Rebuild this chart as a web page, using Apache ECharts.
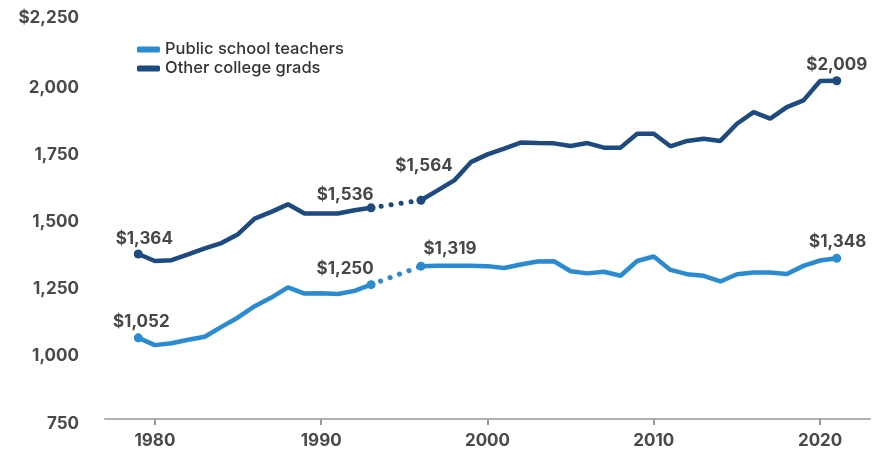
<!DOCTYPE html>
<html>
<head>
<meta charset="utf-8">
<script src="https://cdn.jsdelivr.net/npm/echarts@6/dist/echarts.min.js"></script>
<style>html,body{margin:0;padding:0;background:#fff}#c{width:873px;height:456px}</style>
</head>
<body>
<div id="c"></div>
<script>
var years = [1979,1980,1981,1982,1983,1984,1985,1986,1987,1988,1989,1990,1991,1992,1993,1994,1995,1996,1997,1998,1999,2000,2001,2002,2003,2004,2005,2006,2007,2008,2009,2010,2011,2012,2013,2014,2015,2016,2017,2018,2019,2020,2021];
var teachers = [1052,1025,1032,1045,1056,1093,1128,1170,1202,1240,1217,1218,1215,1227,1250,null,null,1319,1320,1320,1320,1319,1312,1325,1336,1337,1300,1292,1298,1283,1338,1355,1305,1289,1283,1262,1289,1295,1295,1290,1320,1340,1348];
var grads = [1364,1338,1341,1363,1385,1405,1438,1496,1521,1549,1515,1515,1515,1527,1536,null,null,1564,1601,1638,1706,1735,1756,1779,1777,1776,1766,1777,1760,1760,1812,1812,1765,1785,1793,1785,1849,1892,1868,1911,1936,2008,2009];
var labeledYears = [1979,1993,1996,2021];
var xTicks = [1980,1990,2000,2010,2020];
var yTicks = [750,1000,1250,1500,1750,2000,2250];
var seriesNames = ['Public school teachers','Other college grads'];

var colors = ['#2a8bd0','#1d4b7f'];
// label placement styles (dx offset, distance above point)
var labelStyle = {
  t: {1979:[3,3],1993:[-26,3],1996:[29,4],2021:[1,3]},
  g: {1979:[6,2],1993:[-26,0],1996:[3,21],2021:[0,3]}
};
function fmt(v){ return '$' + v.toLocaleString('en-US'); }
function build(vals, key, color){
  return years.map(function(y,i){
    var v = vals[i];
    if (labeledYears.indexOf(y) >= 0 && v != null) {
      var s = labelStyle[key][y];
      return {value:[y,v], symbol:'circle', symbolSize:9,
        itemStyle:{color:color},
        label:{show:true, position:'top', distance:s[1], offset:[s[0],0], formatter:fmt(v)}};
    }
    return {value:[y,v]};
  });
}
function gap(vals){
  var a = years.indexOf(1993), b = years.indexOf(1996);
  return [[years[a], vals[a]], [years[b], vals[b]]];
}
var FONT = 'Inter';
var labelFont = {color:'#474747', fontFamily:FONT, fontWeight:'bold', fontSize:17};

var chart = echarts.init(document.getElementById('c'), null, {renderer:'canvas'});
chart.setOption({
  animation:false,
  backgroundColor:'#ffffff',
  legend:{
    data:seriesNames, orient:'vertical', left:132, top:36, itemGap:2,
    itemWidth:23, itemHeight:6, icon:'roundRect',
    textStyle:{color:'#333', fontFamily:FONT, fontSize:16.5, fontWeight:500}
  },
  grid:{left:105, right:3, top:16, bottom:37},
  xAxis:{
    type:'value', min:1977, max:2023,
    axisLine:{show:true, lineStyle:{color:'#b0b0b0', width:2}},
    axisTick:{show:true, customValues:xTicks, length:6, lineStyle:{color:'#9a9a9a', width:2}},
    axisLabel:{customValues:xTicks, margin:13, color:'#4a4a4a', fontFamily:FONT, fontWeight:'bold', fontSize:17,
      formatter:function(v){return String(v);}},
    splitLine:{show:false}
  },
  yAxis:{
    type:'value', min:750, max:2250, interval:250,
    axisLine:{show:false}, axisTick:{show:false}, splitLine:{show:false},
    axisLabel:{margin:26, color:'#4a4a4a', fontFamily:FONT, fontWeight:'bold', fontSize:17,
      formatter:function(v){ var t = v === yTicks[yTicks.length-1] ? fmt(v) : v.toLocaleString('en-US');
        return v === yTicks[yTicks.length-1] ? '{top|' + t + '}' : '{n|' + t + '}'; },
      rich:{
        n:{padding:[9,0,0,0], fontFamily:FONT, fontWeight:'bold', fontSize:17, color:'#4a4a4a'},
        top:{padding:[4,0,0,0], fontFamily:FONT, fontWeight:'bold', fontSize:17, color:'#4a4a4a'}
      }}
  },
  series:[
    {name:seriesNames[0], type:'line', data:build(teachers,'t',colors[0]), symbol:'none', connectNulls:false,
      lineStyle:{color:colors[0], width:4.5}, itemStyle:{color:colors[0]}, label:labelFont, z:3},
    {name:seriesNames[1], type:'line', data:build(grads,'g',colors[1]), symbol:'none', connectNulls:false,
      lineStyle:{color:colors[1], width:4.5}, itemStyle:{color:colors[1]}, label:labelFont, z:3},
    {name:seriesNames[0], type:'line', data:gap(teachers), symbol:'none',
      lineStyle:{color:colors[0], width:5, type:[0.1,10], cap:'round'}, itemStyle:{color:colors[0]}, z:2},
    {name:seriesNames[1], type:'line', data:gap(grads), symbol:'none',
      lineStyle:{color:colors[1], width:5, type:[0.1,10], cap:'round'}, itemStyle:{color:colors[1]}, z:2}
  ]
});
</script>
</body>
</html>
